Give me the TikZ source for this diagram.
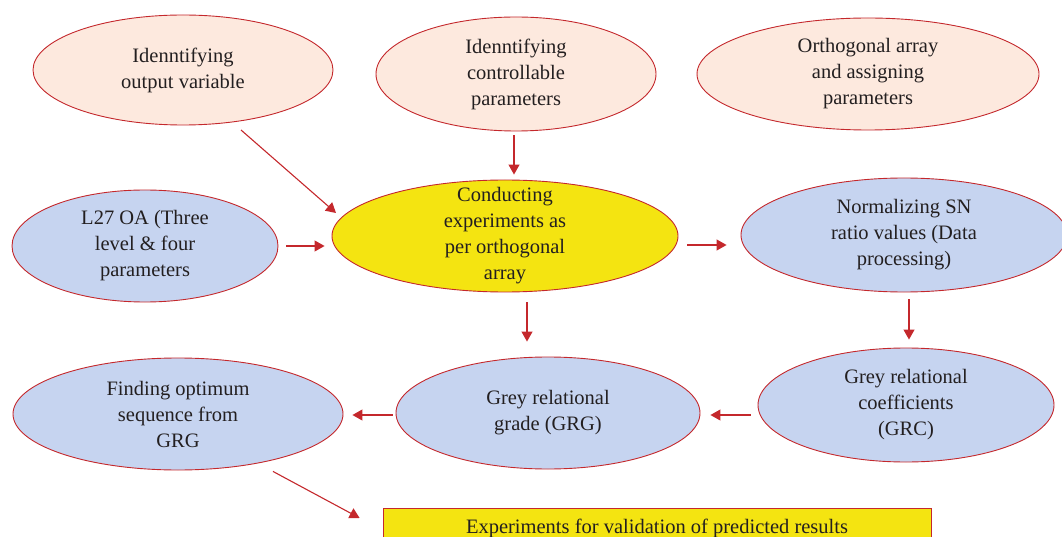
\documentclass[tikz,border=0pt]{standalone}
\usepackage{fontspec}
\setmainfont{Liberation Serif}
\usetikzlibrary{shapes.geometric,arrows.meta,calc}
\definecolor{edgered}{HTML}{C4282C}
\definecolor{peach}{HTML}{FDE9DE}
\definecolor{bluefill}{HTML}{C6D4F0}
\definecolor{yellowfill}{HTML}{F4E411}
\definecolor{txt}{HTML}{231F20}
\tikzset{
  ell/.style={ellipse, draw=edgered, line width=0.9pt, inner sep=0pt, align=center,
    text=txt, font=\fontsize{20.5}{26}\selectfont},
  pk/.style={ell, fill=peach},
  bl/.style={ell, fill=bluefill},
  yl/.style={ell, fill=yellowfill},
  arr/.style={draw=edgered, line width=1.1pt, -{Triangle[length=10pt,width=11pt]}}
}
\begin{document}
\begin{tikzpicture}[x=1pt,y=-1pt]
\useasboundingbox (0,0) rectangle (1062,537);
% top row
\node[pk, minimum width=300pt, minimum height=110pt] (ov) at (183,70) {Idenntifying\\output variable};
\node[pk, minimum width=280pt, minimum height=114pt] (cp) at (516,74) {Idenntifying\\controllable\\parameters};
\node[pk, minimum width=342pt, minimum height=112pt] (oa) at (868,74) {Orthogonal array\\and assigning\\parameters};
% middle row
\node[bl, minimum width=266pt, minimum height=112pt] (l27) at (145,246) {L27 OA (Three\\level \& four\\parameters};
\node[yl, inner ysep=-22pt, minimum width=346pt, minimum height=112pt] (ce) at (505,236) {Conducting\\experiments as\\per orthogonal\\array};
\node[bl, minimum width=326pt, minimum height=114pt] (ns) at (904,235) {Normalizing SN\\ratio values (Data\\processing)};
% bottom row
\node[bl, minimum width=296pt, minimum height=114pt] (grc) at (906,405) {Grey relational\\coefficients\\(GRC)};
\node[bl, minimum width=304pt, minimum height=112pt] (grg) at (548,413) {Grey relational\\grade (GRG)};
\node[bl, minimum width=330pt, minimum height=112pt] (fo) at (178,414) {Finding optimum\\sequence from\\GRG};
% validation box
\node[draw=edgered, line width=0.8pt, fill=yellowfill, minimum width=548pt, minimum height=40pt,
  inner sep=0pt, anchor=north, text=txt, font=\fontsize{20.5}{26}\selectfont] (val) at (657,508)
  {Experiments for validation of predicted results};
% connectors
\draw[arr] ($(ov.center)+(58,60)$) -- ($(ce.center)+(-169,-23)$);
\draw[arr] ($(cp.south)+(-2,4)$) -- ($(ce.north)+(9,-5)$);
\draw[arr] ($(l27.east)+(8,0)$) -- ($(ce.west)+(-7,10)$);
\draw[arr] ($(ce.east)+(9,9)$) -- ($(ns.west)+(-14,10)$);
\draw[arr] ($(ce.south)+(22,10)$) -- ($(grg.north)+(-21,-15)$);
\draw[arr] ($(ns.south)+(5,7)$) -- ($(grc.north)+(3,-8)$);
\draw[arr] ($(grc.west)+(-7,10)$) -- ($(grg.east)+(10,2)$);
\draw[arr] ($(grg.west)+(-3,2)$) -- ($(fo.east)+(9,1)$);
\draw[arr] ($(fo.south)+(95,1)$) -- ($(val.north west)+(-23,10)$);
\end{tikzpicture}
\end{document}
